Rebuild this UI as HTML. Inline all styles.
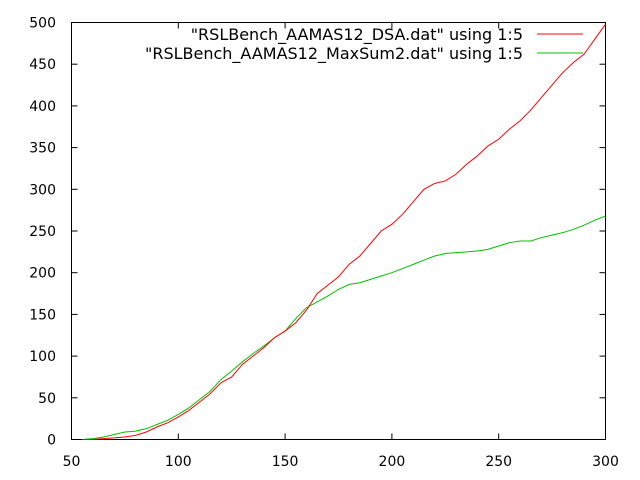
<!DOCTYPE html>
<html><head><meta charset="utf-8"><style>body{margin:0;background:#fff}svg{display:block}text{font-family:"DejaVu Sans","Liberation Sans",sans-serif;font-size:14px;fill:#000}#legend text{font-size:16px}</style></head>
<body>
<svg id="chart" width="640" height="480" xmlns="http://www.w3.org/2000/svg">
<rect width="640" height="480" fill="#fff"/>
<g id="axes"></g>
<g id="series"></g>
<g id="legend">
<text x="523" y="40" text-anchor="end">"RSLBench_AAMAS12_DSA.dat" using 1:5</text>
<line x1="537" y1="34" x2="583" y2="34" stroke="#ff0000"/>
<text x="523" y="59" text-anchor="end">"RSLBench_AAMAS12_MaxSum2.dat" using 1:5</text>
<line x1="537" y1="53" x2="583" y2="53" stroke="#00c000"/>
</g>
</svg>
<script>
const xTicks=[50,100,150,200,250,300];
const yTicks=[0,50,100,150,200,250,300,350,400,450,500];
const xs=[55,60,65,70,75,80,85,90,95,100,105,110,115,120,125,130,135,140,145,150,155,160,165,170,175,180,185,190,195,200,205,210,215,220,225,230,235,240,245,250,255,260,265,270,275,280,285,290,295,300];
const dsa=[0,0,1,2,3,5,9,15,20,27,35,45,55,68,75,90,100,110,122,130,140,155,175,185,195,210,220,235,250,258,270,285,300,307,310,318,330,340,352,360,372,382,395,410,425,440,452,462,480,498];
const maxsum=[0,1,3,6,9,10,13,18,23,30,38,48,58,72,82,93,103,112,122,130,145,158,165,172,180,186,188,192,196,200,205,210,215,220,223,224,225,226,228,232,236,238,238,242,245,248,252,257,263,268];
const L=71.5,R=605.5,T=22.5,B=439.5;
const X=v=>L+(v-50)/250*(R-L), Y=v=>B-v/500*(B-T);
const NS="http://www.w3.org/2000/svg";
const ax=document.getElementById('axes'), sg=document.getElementById('series');
function mk(tag,attrs,parent){const e=document.createElementNS(NS,tag);for(const k in attrs)e.setAttribute(k,attrs[k]);parent.appendChild(e);return e;}
const frame=mk('rect',{x:L,y:T,width:R-L,height:B-T,fill:'none',stroke:'#000'},ax);


xTicks.forEach(t=>{const x=X(t);
 mk('line',{x1:x,y1:B,x2:x,y2:B-6,stroke:'#000'},ax);mk('line',{x1:x,y1:T,x2:x,y2:T+6,stroke:'#000'},ax);
 const tx=mk('text',{x:x,y:466,'text-anchor':'middle'},ax);tx.textContent=t;
 
 });
yTicks.forEach(t=>{const y=Y(t);
 mk('line',{x1:L,y1:y,x2:L+6,y2:y,stroke:'#000'},ax);mk('line',{x1:R,y1:y,x2:R-6,y2:y,stroke:'#000'},ax);
 const tx=mk('text',{x:56,y:y+5,'text-anchor':'end'},ax);tx.textContent=t;
 
 });
function line(vals,color,name){const p=mk('polyline',{points:xs.map((x,i)=>X(x)+','+Y(vals[i])).join(' '),fill:'none',stroke:color,'stroke-width':1},sg);
 
 }
line(maxsum,'#00c000','series-maxsum');
line(dsa,'#ff0000','series-dsa');
</script>
</body></html>
